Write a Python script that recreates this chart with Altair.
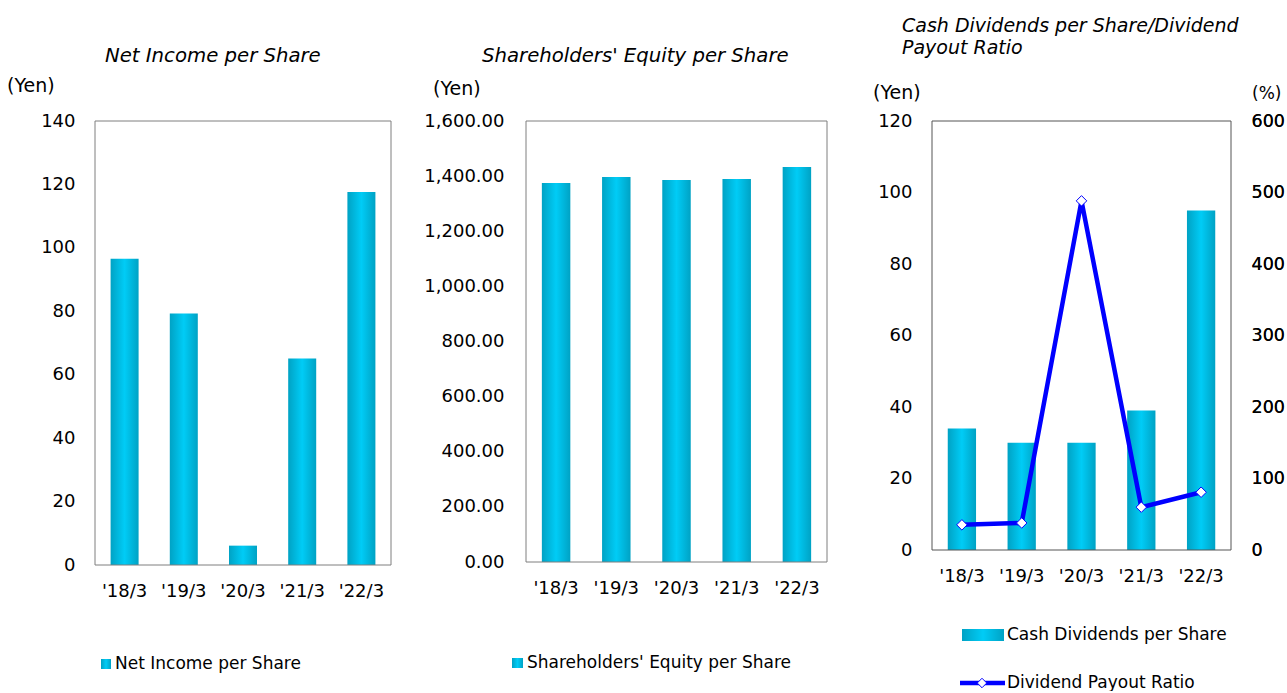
import altair as alt
import pandas as pd

# ---- data ----
periods = ["'18/3", "'19/3", "'20/3", "'21/3", "'22/3"]
net_income = [96.6, 79.3, 6.1, 65.1, 117.6]
equity = [1375, 1397, 1386, 1390, 1433]
dividends = [34, 30, 30, 39, 95]
payout = [35.2, 37.8, 488.3, 59.9, 80.8]

ni_ticks = [0, 20, 40, 60, 80, 100, 120, 140]
eq_ticks = [0, 200, 400, 600, 800, 1000, 1200, 1400, 1600]
dv_ticks = [0, 20, 40, 60, 80, 100, 120]
pr_ticks = [0, 100, 200, 300, 400, 500, 600]

FONT = "DejaVu Sans"
BLUE = "#0000ff"

grad = alt.Gradient(
    gradient="linear",
    stops=[
        alt.GradientStop(color="#00a2c4", offset=0),
        alt.GradientStop(color="#00ccf6", offset=0.5),
        alt.GradientStop(color="#00a2c4", offset=1),
    ],
    x1=0, x2=1, y1=0, y2=0,
)

one = pd.DataFrame({"k": [0]})


def txt(s, x, y, size=17, style="normal", align="left", baseline="alphabetic", weight="normal", line_height=None):
    kw = dict(text=s, align=align, baseline=baseline, font=FONT, fontSize=size,
              fontStyle=style, fontWeight=weight, color="#000")
    if line_height:
        kw["lineHeight"] = line_height
    return alt.Chart(one).mark_text(**kw).encode(x=alt.value(x), y=alt.value(y))


def frame(w, h, color):
    return alt.Chart(one).mark_rect(fillOpacity=0, stroke=color, strokeWidth=1).encode(
        x=alt.value(0), x2=alt.value(w), y=alt.value(0), y2=alt.value(h))


def swatch(x0, x1, y0, y1):
    return alt.Chart(one).mark_rect(color=grad).encode(
        x=alt.value(x0), x2=alt.value(x1), y=alt.value(y0), y2=alt.value(y1))


def xaxis():
    return alt.Axis(labelAngle=0, labelFont=FONT, labelFontSize=18, labelColor="#000",
                    labelPadding=17, ticks=False, tickSize=0, domain=False, grid=False, title=None)


def yaxis(values, fmt=None, orient="left", pad=20, size=18):
    kw = dict(values=values, labelFont=FONT, labelFontSize=size, labelColor="#000",
              labelPadding=pad, ticks=False, tickSize=0, domain=False, grid=False,
              title=None, orient=orient)
    if fmt:
        kw["format"] = fmt
    return alt.Axis(**kw)


def xenc(w):
    return alt.X("period:N", sort=periods,
                 scale=alt.Scale(domain=periods, range=[0, w], paddingInner=0.527, paddingOuter=0.2635),
                 axis=xaxis())


# ---- panel 1 ----
W1, H1 = 296, 444
df1 = pd.DataFrame({"period": periods, "value": net_income})
bars1 = alt.Chart(df1).mark_bar(color=grad).encode(
    x=xenc(W1),
    y=alt.Y("value:Q", scale=alt.Scale(domain=[0, 140], nice=False), axis=yaxis(ni_ticks)),
)
p1 = alt.layer(
    bars1,
    frame(W1, H1, "#7f7f7f"),
    txt("Net Income per Share", 10, -59, size=19.7, style="italic"),
    txt("(Yen)", -88, -29, size=19),
    swatch(6, 16, 538, 548),
    txt("Net Income per Share", 20, 543, baseline="middle"),
).properties(width=W1 + 30, height=H1)

# ---- panel 2 ----
W2, H2 = 301, 441
df2 = pd.DataFrame({"period": periods, "value": equity})
bars2 = alt.Chart(df2).mark_bar(color=grad).encode(
    x=xenc(W2),
    y=alt.Y("value:Q", scale=alt.Scale(domain=[0, 1600], nice=False),
            axis=yaxis(eq_ticks, fmt=",.2f", pad=22)),
)
p2 = alt.layer(
    bars2,
    frame(W2, H2, "#7f7f7f"),
    txt("Shareholders' Equity per Share", -44, -59, size=19.7, style="italic"),
    txt("(Yen)", -93, -26, size=19),
    swatch(-14, -3, 537, 547),
    txt("Shareholders' Equity per Share", 1, 542, baseline="middle"),
).properties(width=W2, height=H2)

# ---- panel 3 ----
W3, H3 = 299, 429
df3 = pd.DataFrame({"period": periods, "dividend": dividends, "ratio": payout})
bars3 = alt.Chart(df3).mark_bar(color=grad).encode(
    x=xenc(W3),
    y=alt.Y("dividend:Q", scale=alt.Scale(domain=[0, 120], nice=False), axis=yaxis(dv_ticks)),
)
ratio_y = alt.Y("ratio:Q", scale=alt.Scale(domain=[0, 600], nice=False),
                axis=yaxis(pr_ticks, orient="right", pad=20, size=17.5))
line3 = alt.Chart(df3).mark_line(color=BLUE, strokeWidth=4.5).encode(x=xenc(W3), y=ratio_y)
pts3 = alt.Chart(df3).mark_point(shape="diamond", size=110, filled=True, fill="white",
                                 stroke=BLUE, strokeWidth=1, opacity=1).encode(x=xenc(W3), y=ratio_y)

leg_line = alt.Chart(one).mark_rule(color=BLUE, strokeWidth=4.5).encode(
    x=alt.value(28), x2=alt.value(73), y=alt.value(562))
leg_pt = alt.Chart(one).mark_point(shape="diamond", size=90, filled=True, fill="white",
                                   stroke=BLUE, strokeWidth=1, opacity=1).encode(
    x=alt.value(50), y=alt.value(562))

p3 = alt.layer(
    bars3, line3, pts3,
    frame(W3, H3, "#555555"),
    txt("Cash Dividends per Share/Dividend", -30, -89, size=19, style="italic"),
    txt("Payout Ratio", -30, -67, size=19, style="italic"),
    txt("(Yen)", -59, -22, size=19),
    txt("(%)", W3 + 21, -22, size=17),
    swatch(30, 72, 508, 520),
    txt("Cash Dividends per Share", 75, 514, baseline="middle"),
    leg_line, leg_pt,
    txt("Dividend Payout Ratio", 75, 562, baseline="middle"),
).resolve_scale(y="independent").properties(width=W3, height=H3)

chart = alt.hconcat(p1, p2, p3, spacing=105, bounds="flush").configure_view(
    stroke=None
).properties(padding={"left": 7, "top": 17, "right": 0, "bottom": 0})

chart.save("out.html", embed_options={"renderer": "svg", "actions": False})
